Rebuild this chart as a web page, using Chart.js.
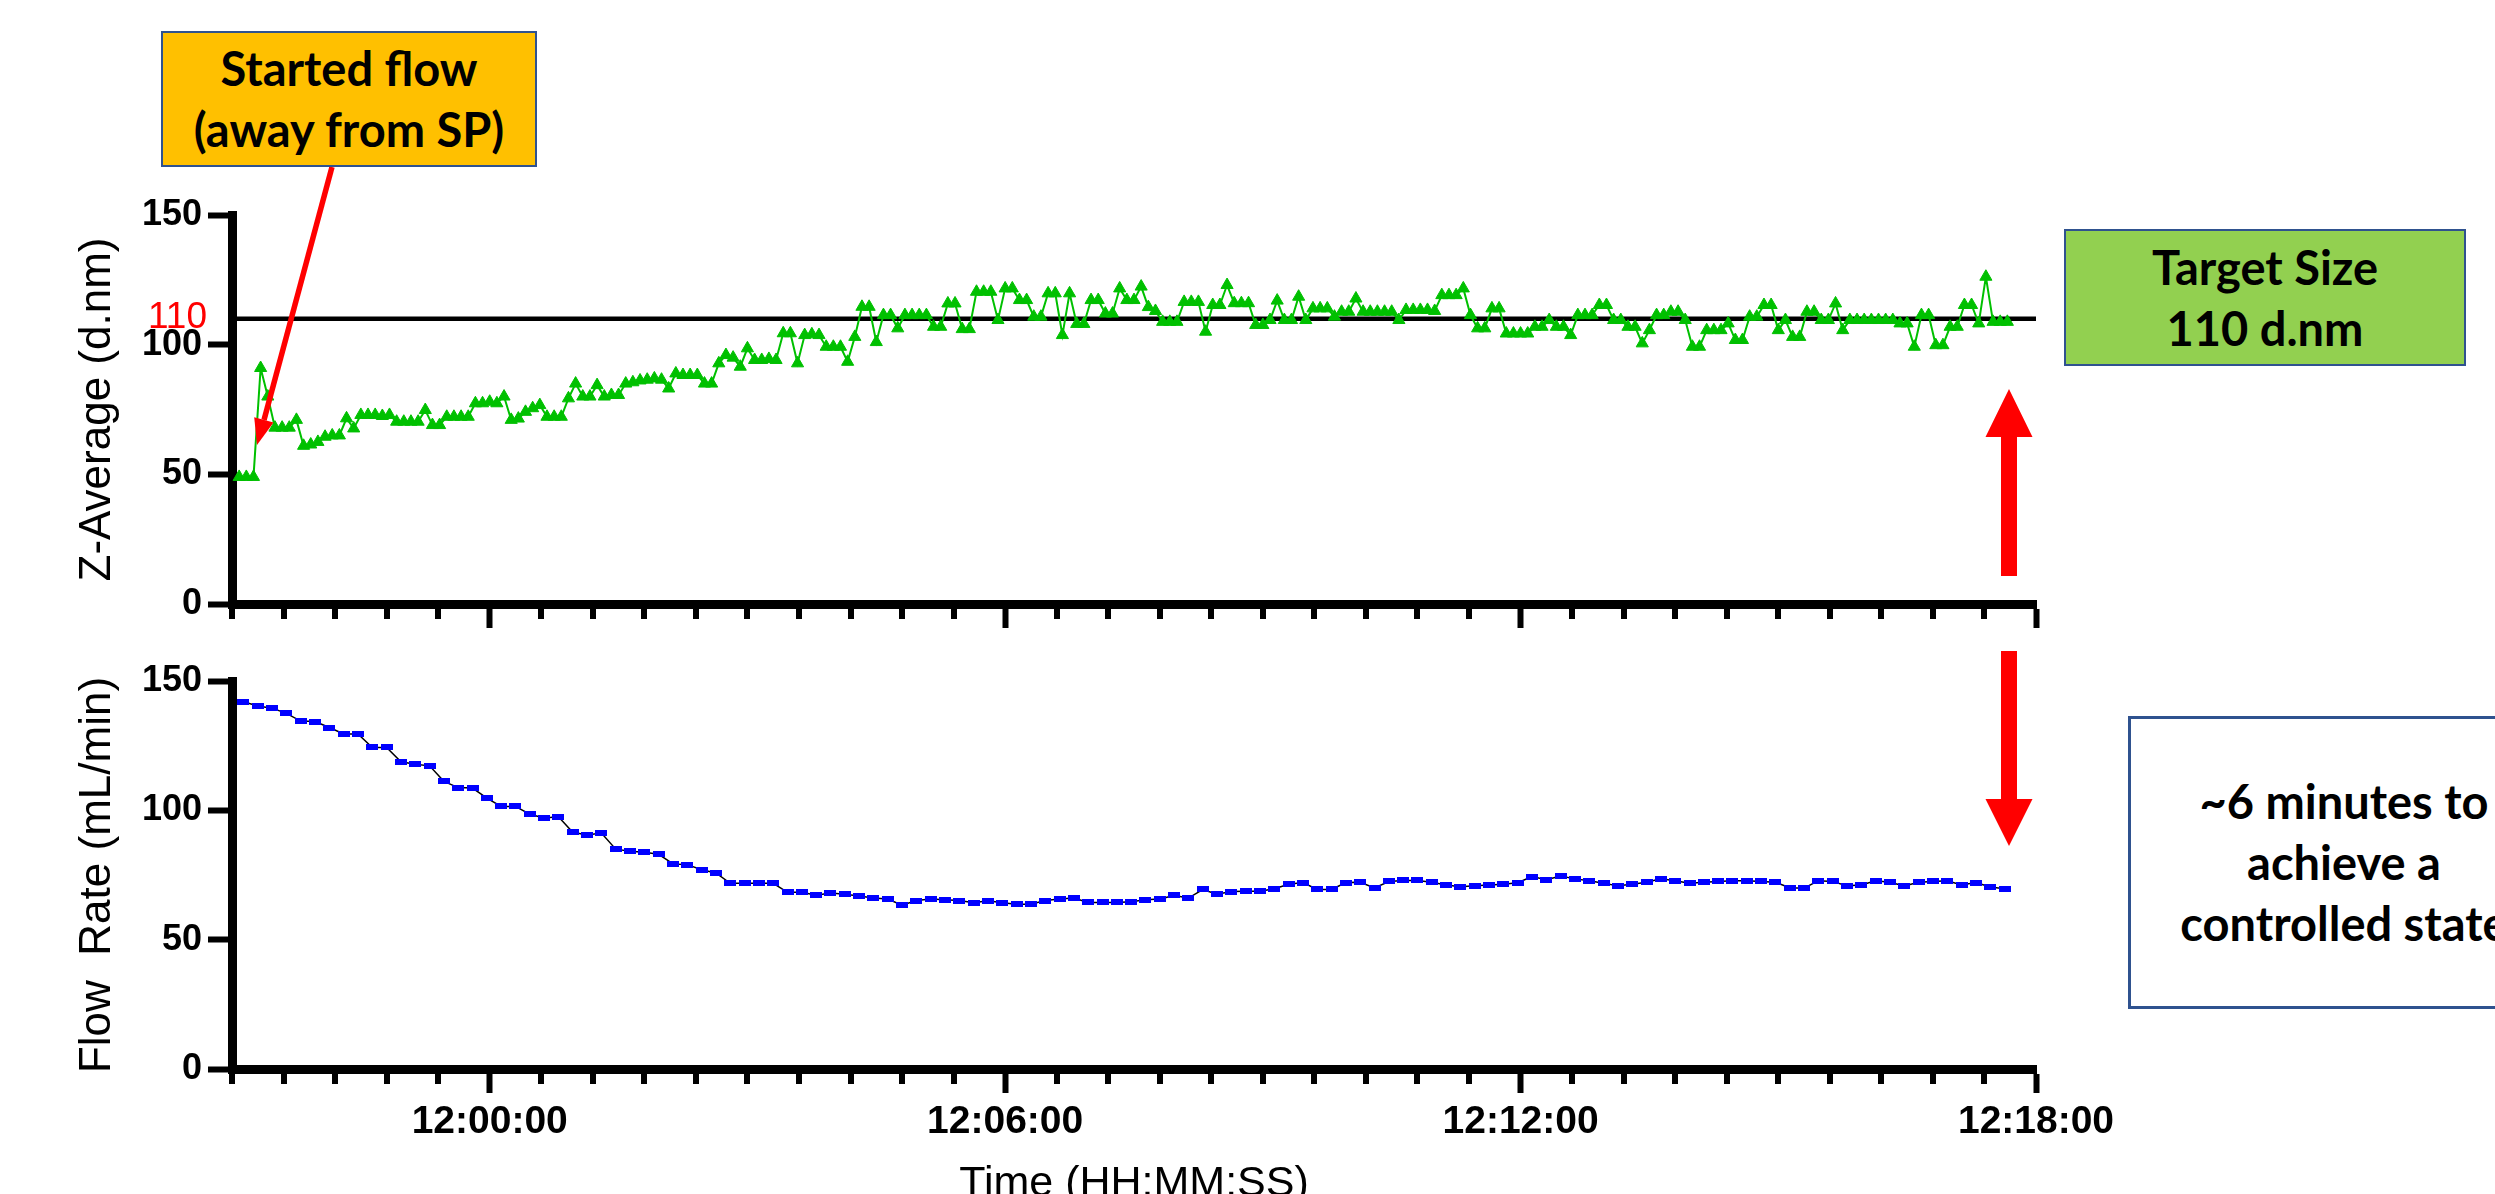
<!DOCTYPE html>
<html>
<head>
<meta charset="utf-8">
<title>Z-Average and flow rate over time</title>
<script src="https://cdn.jsdelivr.net/npm/chart.js@4.4.1/dist/chart.umd.min.js"></script>
<style>
  html, body { margin: 0; padding: 0; background: #fff; overflow: hidden; }
  #wrap { position: relative; width: 2495px; height: 1194px; overflow: hidden; }
  canvas { position: absolute; left: 0; }
  #zChart { top: 0; }
  #flowChart { top: 640px; }
  svg { position: absolute; left: 0; top: 0; }
  .note {
    position: absolute; box-sizing: border-box; border: 2px solid #2F528F;
    display: flex; align-items: center; justify-content: center; text-align: center;
    font-family: Lato, "Open Sans", sans-serif; font-weight: 700; font-size: 47px;
    line-height: 61px; color: #000; white-space: nowrap;
  }
</style>
</head>
<body>
<div id="wrap">
  <canvas id="zChart" width="2495" height="640"></canvas>
  <canvas id="flowChart" width="2495" height="600"></canvas>
  <svg width="2495" height="1194" viewBox="0 0 2495 1194">
    <line x1="332" y1="167" x2="264" y2="420" stroke="#FF0000" stroke-width="5.5"/>
    <polygon points="257,445 273.5,422.5 254.2,417.3" fill="#FF0000"/>
    <polygon points="2001,576 2001,437 1985.5,437 2009,389 2032.5,437 2017,437 2017,576" fill="#FF0000"/>
    <polygon points="2001,651 2017,651 2017,799 2032.5,799 2009,846 1985.5,799 2001,799" fill="#FF0000"/>
  </svg>
  <div class="note" style="left:161px;top:31px;width:376px;height:136px;background:#FFC000;">Started flow<br>(away from SP)</div>
  <div class="note" style="left:2064px;top:229px;width:402px;height:137px;background:#92D050;">Target Size<br>110 d.nm</div>
  <div class="note" style="left:2128px;top:716px;width:432px;height:293px;background:#fff;border-width:3px;">~6 minutes to<br>achieve a<br>controlled state</div>
</div>
<script>
// time axis, seconds since midnight (11:57:00 .. 12:18:00)
const timeMin = 43020;
const timeMax = 44280;
const minorStep = 36;
const labelSeconds = [43200, 43560, 43920, 44280];
const timeLabels = ['12:00:00', '12:06:00', '12:12:00', '12:18:00'];
const targetSize = 110;

// Z-Average (d.nm), one reading every 5 s from 11:57:05
const zStart = 5, zStep = 5;
const zValues = [
  49, 49, 49, 91, 80, 68, 68, 68, 71, 61,
  61.5, 62.5, 64.5, 65, 65, 71.6, 67.7, 72.9, 72.9, 72.9,
  72.5, 72.9, 70.3, 70.3, 70.3, 70.3, 74.8, 69, 69, 72.2,
  72.2, 72.2, 72.2, 77.4, 77.4, 78, 77.4, 80, 71, 71.5,
  74.1, 75.5, 76.7, 72.2, 72.2, 72.2, 79.3, 85, 80, 80,
  84.4, 80, 80.6, 80.6, 85, 85.5, 86.2, 86.5, 87, 86.5,
  83.1, 88.9, 88.3, 88.3, 88.3, 85, 85, 92.8, 96, 95,
  91.5, 98.6, 94.1, 94.1, 94.5, 94.1, 104.4, 104.4, 92.8, 103.7,
  104, 103.7, 99.2, 99.2, 99.2, 93.4, 103, 114.6, 114.6, 101,
  111.4, 111.4, 106.3, 111.4, 111.4, 111.4, 111.4, 106.9, 106.9, 115.9,
  115.9, 106, 106, 120.4, 120.4, 120.4, 109.5, 121.7, 121.7, 117.2,
  117.2, 110.8, 110.8, 119.8, 119.8, 103.7, 119.8, 108, 108, 117.2,
  117.2, 112, 112, 121.7, 117.2, 117.2, 122.4, 114.5, 113, 108.8,
  108.8, 108.8, 116.5, 116.5, 116.5, 105, 115.3, 115.3, 123, 116,
  116, 116, 107.6, 107.6, 109.5, 117, 109.5, 109.5, 118.5, 109.5,
  114, 114, 114, 110.8, 112.7, 112.7, 117.8, 112.7, 112.7, 112.7,
  112.7, 112.7, 109.5, 113.4, 113.4, 113.4, 113.4, 113, 119.1, 119.1,
  119.1, 121.7, 111.4, 106.3, 106.3, 114, 114, 104.3, 104.3, 104.3,
  104.3, 106.9, 106.9, 109.5, 106.9, 106.9, 103.7, 111.4, 111.4, 111.4,
  115.3, 115.3, 109.5, 109.5, 106.9, 106.9, 100.5, 105.6, 111.4, 111.4,
  112.7, 112.7, 109.5, 99.2, 99.2, 105.6, 105.6, 105.6, 108.2, 101.8,
  101.8, 110.8, 110.8, 115.3, 115.3, 105.6, 109.5, 103, 103, 112.7,
  112.7, 109.5, 109.5, 115.9, 105.6, 109.5, 109.5, 109.5, 109.5, 109.5,
  109.5, 109.5, 108.2, 108.2, 99.2, 111.4, 111.4, 99.8, 99.8, 106.9,
  106.9, 115.3, 115.3, 108.2, 126.2, 108.8, 108.8, 108.8
];

// flow rate (mL/min), one reading every 10 s from 11:57:08
const flowStart = 8, flowStep = 10;
const flowValues = [
  142, 140.3, 139.5, 137.5, 134.5, 134.3, 132, 129.5, 129.5, 124.3,
  124.3, 118.8, 117.8, 117.2, 111.2, 108.8, 108.6, 104.7, 101.5, 101.5,
  98.5, 97, 97.5, 91.5, 90.5, 91.2, 85, 84.2, 83.8, 83,
  79.3, 79, 77, 75.8, 71.8, 71.8, 71.8, 71.8, 68.3, 68.3,
  67.2, 68, 67.6, 66.9, 66.1, 65.7, 63.3, 65.1, 65.7, 65.4,
  65.1, 64.3, 65, 64.3, 63.7, 63.7, 65.1, 65.7, 66.1, 64.4,
  64.4, 64.4, 64.7, 65.4, 65.7, 67.1, 66.1, 69.4, 67.6, 68.6,
  68.7, 68.7, 69.7, 71.4, 72.1, 69.4, 69.4, 72.1, 72.2, 70,
  72.5, 72.9, 72.9, 72.2, 71.1, 70.5, 70.8, 71.1, 71.4, 72,
  74.4, 73.2, 74.6, 73.5, 72.8, 71.8, 70.8, 71.4, 72.2, 73.5,
  72.8, 71.8, 72.2, 72.5, 72.8, 72.8, 72.5, 72.2, 70.1, 69.9,
  72.8, 72.5, 70.8, 71.1, 72.8, 72.2, 70.8, 72.2, 72.5, 72.8,
  71.1, 72.1, 70.4, 69.7
];

const axisFont = '"Liberation Sans", Arial, sans-serif';

function timeAxis(showLabels) {
  return {
    type: 'linear',
    min: timeMin,
    max: timeMax,
    afterBuildTicks: function(scale) {
      const ticks = [];
      for (let v = timeMin; v <= timeMax; v += minorStep) ticks.push({ value: v });
      scale.ticks = ticks;
    },
    afterFit: function(scale) {
      scale.height = showLabels ? 171 : 36;
    },
    grid: {
      drawOnChartArea: false,
      tickLength: 24,
      tickWidth: 6,
      tickColor: function(ctx) {
        return ctx.tick && labelSeconds.includes(ctx.tick.value) ? '#000' : 'rgba(0,0,0,0)';
      }
    },
    border: { color: '#000', width: 9 },
    ticks: {
      display: showLabels,
      autoSkip: false,
      maxRotation: 0,
      padding: 6,
      color: '#000',
      font: { family: axisFont, size: 39, weight: 'bold' },
      callback: function(value) {
        const i = labelSeconds.indexOf(value);
        return i >= 0 ? timeLabels[i] : '';
      }
    },
    title: {
      display: showLabels,
      text: 'Time (HH:MM:SS)',
      color: '#000',
      font: { family: axisFont, size: 43 },
      padding: { top: 0, bottom: 30 }
    }
  };
}

function valueAxis(title) {
  return {
    min: 0,
    max: 150,
    afterFit: function(scale) {
      scale.width = 232;
    },
    ticks: {
      stepSize: 50,
      padding: 6,
      color: '#000',
      font: { family: axisFont, size: 36, weight: 'bold' }
    },
    grid: { drawOnChartArea: false, tickLength: 24, tickWidth: 6, tickColor: '#000' },
    border: { color: '#000', width: 9 },
    title: {
      display: true,
      text: title,
      color: '#000',
      font: { family: axisFont, size: 44 },
      padding: { top: 71, bottom: 0 }
    }
  };
}

// short ticks between the labelled ones
const minorTicks = {
  id: 'minorTicks',
  afterDraw: function(chart) {
    const xs = chart.scales.x;
    const c = chart.ctx;
    c.save();
    c.strokeStyle = '#000';
    c.lineWidth = 6;
    c.beginPath();
    xs.ticks.forEach(function(t) {
      if (labelSeconds.includes(t.value)) return;
      const px = Math.round(xs.getPixelForValue(t.value));
      c.moveTo(px, xs.top + 4);
      c.lineTo(px, xs.top + 15);
    });
    c.stroke();
    c.restore();
  }
};

// red "110" next to the y axis
const targetLabel = {
  id: 'targetLabel',
  afterDraw: function(chart) {
    const c = chart.ctx;
    const y = chart.scales.y.getPixelForValue(targetSize);
    c.save();
    c.font = '37px ' + axisFont;
    c.fillStyle = '#FF0000';
    c.textAlign = 'right';
    c.textBaseline = 'middle';
    c.fillText(String(targetSize), chart.chartArea.left - 25, y - 1);
    c.restore();
  }
};

const flowMarker = document.createElement('canvas');
flowMarker.width = 12;
flowMarker.height = 6;
const fm = flowMarker.getContext('2d');
fm.fillStyle = '#0000FF';
fm.fillRect(0, 0, 12, 6);

new Chart(document.getElementById('zChart'), {
  type: 'line',
  data: {
    datasets: [{
      label: 'Z-Average',
      data: zValues.map(function(v, i) { return { x: timeMin + zStart + i * zStep, y: v }; }),
      borderColor: '#00C000',
      backgroundColor: '#00C000',
      borderWidth: 2,
      pointStyle: 'triangle',
      pointRadius: 7,
      pointBorderWidth: 1,
      tension: 0
    }, {
      label: 'Target',
      data: [{ x: timeMin, y: targetSize }, { x: timeMax, y: targetSize }],
      borderColor: '#000',
      borderWidth: 4.5,
      pointRadius: 0
    }]
  },
  options: {
    responsive: false,
    animation: false,
    layout: { padding: { left: 0, top: 215, right: 459, bottom: 0 } },
    plugins: { legend: { display: false }, tooltip: { enabled: false } },
    scales: {
      x: timeAxis(false),
      y: valueAxis('Z-Average (d.nm)')
    }
  },
  plugins: [minorTicks, targetLabel]
});

new Chart(document.getElementById('flowChart'), {
  type: 'line',
  data: {
    datasets: [{
      label: 'Flow Rate',
      data: flowValues.map(function(v, i) { return { x: timeMin + flowStart + i * flowStep, y: v }; }),
      borderColor: '#000',
      borderWidth: 1.5,
      pointStyle: flowMarker,
      tension: 0
    }]
  },
  options: {
    responsive: false,
    animation: false,
    layout: { padding: { left: 0, top: 41, right: 459, bottom: 0 } },
    plugins: { legend: { display: false }, tooltip: { enabled: false } },
    scales: {
      x: timeAxis(true),
      y: valueAxis('Flow  Rate (mL/min)')
    }
  },
  plugins: [minorTicks]
});
</script>
</body>
</html>
